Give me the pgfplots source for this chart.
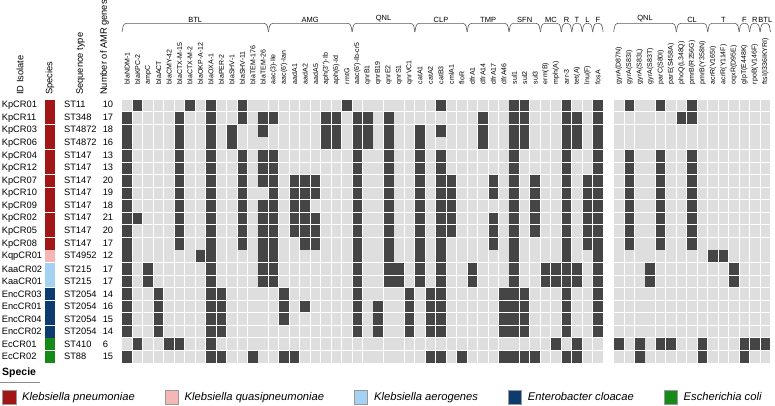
\documentclass[border=0pt]{standalone}
\usepackage{fontspec}
\setmainfont{Liberation Sans}
\usepackage{pgfplots}
\usepackage{pgfplotstable}
\pgfplotsset{compat=1.18}

\definecolor{cellD}{HTML}{454545}
\definecolor{cellL}{HTML}{DEDEDE}
\definecolor{spKp}{HTML}{A31616}
\definecolor{spKq}{HTML}{F5B7B5}
\definecolor{spKa}{HTML}{A5D1F3}
\definecolor{spEn}{HTML}{0C3B6F}
\definecolor{spEc}{HTML}{168A16}

% one heatmap cell (1 unit = 10.46pt x 12.56pt), white gap round it
\pgfdeclareplotmark{cell}{\pgfpathrectangle{\pgfqpoint{-4.78pt}{-5.83pt}}{\pgfqpoint{9.56pt}{11.66pt}}\pgfusepathqfill}
\pgfdeclareplotmark{spbox}{\pgfpathrectangle{\pgfqpoint{-5pt}{-6pt}}{\pgfqpoint{10pt}{12pt}}\pgfusepathqfill}

% row, then 46 acquired genes (BTL..F), then 15 point mutations; 1 = present
\pgfplotstableread[header=false]{
0  0 1 0 0 0 0 1 0 1 0  0 1 0 0 0 0 0 0 0 0  0 1 0 0 0 0 0 0 0 0  1 0 0 0 0 0 0 1 1 0  0 0 1 0 0 1  0 1 0 0 1 0 0 1 0 0 0 0 0 0 0
1  1 0 0 0 0 1 0 0 1 0  0 1 0 1 1 0 0 0 0 1  1 0 1 1 0 1 0 0 0 0  0 0 0 0 1 0 0 1 1 0  0 0 1 1 0 1  0 0 0 0 0 0 1 1 0 0 0 0 0 0 0
2  1 0 0 0 0 1 0 0 1 0  1 0 0 1 0 0 0 0 0 1  1 0 1 1 0 1 0 0 1 0  1 0 0 0 1 0 0 1 1 0  0 0 1 1 0 1  0 0 0 0 0 0 0 0 0 0 0 0 0 0 0
3  1 0 0 0 0 1 0 0 1 0  1 0 0 0 0 0 0 0 0 1  1 0 1 1 0 1 0 0 1 0  0 0 0 0 1 0 0 1 1 0  0 0 1 1 0 1  0 0 0 0 0 0 0 0 0 0 0 0 0 0 0
4  1 0 0 0 0 1 0 0 1 0  0 1 0 1 1 0 0 0 0 0  0 0 1 0 0 1 0 0 1 0  1 0 0 0 0 0 0 1 0 0  0 0 1 0 0 1  0 1 0 0 1 0 0 1 0 0 0 0 0 0 0
5  1 0 0 0 0 1 0 0 1 0  0 1 0 1 1 0 0 0 0 0  0 0 1 0 0 1 0 0 1 0  1 0 0 0 0 0 0 1 0 0  0 0 1 0 0 1  0 1 0 0 1 0 0 1 0 0 0 0 0 0 0
6  1 0 0 0 0 1 0 0 1 0  0 1 0 1 1 0 1 1 1 0  0 0 1 0 0 1 0 0 1 0  1 1 0 0 0 1 0 1 0 1  0 0 1 0 1 1  0 1 0 0 1 0 0 1 0 0 0 0 0 0 0
7  1 0 0 0 0 1 0 0 1 0  0 1 0 0 1 0 1 1 1 0  0 0 1 0 0 1 0 0 1 0  1 1 0 0 0 1 0 1 0 1  0 0 1 0 1 1  0 1 0 0 1 0 0 1 0 0 0 0 0 0 0
8  1 0 0 0 0 1 0 0 1 0  0 1 0 1 1 0 1 1 0 0  0 0 1 0 0 1 0 0 1 0  1 1 0 0 0 0 0 1 0 1  0 0 1 0 1 1  0 1 0 0 1 0 0 1 0 0 0 0 0 0 0
9  1 1 0 0 0 1 0 0 1 0  0 1 0 1 1 0 1 1 1 0  0 0 1 0 0 1 0 0 1 0  1 1 0 0 0 1 0 1 0 1  0 0 1 0 1 1  0 1 0 0 1 0 0 1 0 0 0 0 0 0 0
10 1 0 0 0 0 1 0 0 1 0  0 1 0 1 1 0 1 1 1 0  0 0 1 0 0 1 0 0 1 0  1 1 0 0 0 1 0 1 0 1  0 0 1 0 1 1  0 1 0 0 1 0 0 1 0 0 0 0 0 0 0
11 1 0 0 0 0 1 0 0 1 0  0 1 0 1 1 0 0 1 1 0  0 0 1 0 0 1 0 0 1 0  1 0 0 0 0 1 0 1 0 0  0 0 1 0 1 1  0 1 0 0 1 0 0 1 0 0 0 0 0 0 0
12 1 0 0 0 0 0 0 1 1 0  0 0 0 1 1 0 0 0 0 0  0 0 1 0 0 1 0 0 1 0  1 0 0 0 0 0 0 1 0 0  0 0 1 0 0 1  0 0 0 0 0 0 0 0 0 1 1 0 0 0 0
13 1 0 1 0 0 0 0 0 1 0  0 0 0 1 1 0 0 0 0 0  0 0 1 0 0 1 1 0 1 0  1 0 0 1 0 0 0 1 0 0  1 1 1 1 0 1  0 0 0 1 0 0 0 0 0 0 0 1 0 0 0
14 1 0 1 0 0 0 0 0 1 0  0 0 0 1 1 0 0 0 0 0  0 0 1 0 0 1 1 0 1 0  1 0 0 1 0 0 0 1 0 0  1 1 1 1 0 1  0 0 0 1 0 0 0 0 0 0 0 1 0 0 0
15 1 0 0 1 0 0 0 0 1 1  0 0 0 0 0 1 0 0 0 0  0 0 1 0 0 0 0 1 0 1  1 0 0 0 0 0 1 1 1 0  0 0 1 0 0 1  0 0 0 0 0 0 0 0 0 0 0 0 0 0 0
16 1 0 0 1 0 0 0 0 1 1  0 0 0 0 0 1 0 1 0 0  0 0 1 0 1 0 0 1 0 1  1 0 0 0 0 0 1 1 1 0  0 0 1 0 0 1  0 0 0 0 0 0 0 0 0 0 0 0 0 0 0
17 1 0 0 1 0 0 0 0 1 1  0 0 0 0 0 1 0 0 0 0  0 0 1 0 1 0 0 1 0 1  1 0 0 0 0 0 1 1 1 0  0 0 1 0 0 1  0 0 0 0 0 0 0 0 0 0 0 0 0 0 0
18 1 0 0 1 0 0 0 0 1 1  0 0 0 0 0 0 0 0 0 0  0 0 1 0 1 0 0 1 0 1  1 0 0 0 0 0 1 1 1 0  0 0 1 0 0 1  0 0 0 0 0 0 0 0 0 0 0 0 0 0 0
19 0 1 0 0 1 1 0 0 1 0  0 0 0 0 0 0 0 0 0 0  0 0 0 0 0 0 0 0 0 0  0 0 0 0 0 0 0 0 0 0  0 1 0 1 0 0  1 0 1 0 1 1 0 0 1 0 0 0 1 1 1
20 1 0 0 0 0 0 0 0 1 1  0 0 1 0 0 1 1 0 0 0  0 0 0 0 0 0 0 0 0 1  1 0 1 0 0 0 1 1 1 1  0 0 1 1 0 0  0 0 1 0 0 0 0 0 1 0 0 0 1 0 0
}\amr

\pgfplotstableread{
row sp
0 kp
1 kp
2 kp
3 kp
4 kp
5 kp
6 kp
7 kp
8 kp
9 kp
10 kp
11 kp
12 kq
13 ka
14 ka
15 en
16 en
17 en
18 en
19 ec
20 ec
}\species

\newcommand\rl[3]{\makebox[62.3pt][l]{#1}\makebox[38.7pt][l]{#2}\makebox[19pt][l]{#3}}
\newcommand\grp[3]{%
  \draw[black!65, line width=0.6pt] (axis cs:#1,5.86) to[out=75,in=180] (axis cs:#1+0.4,6.54)
    -- (axis cs:#2-0.4,6.54) to[out=0,in=105] (axis cs:#2,5.86);
  \node[anchor=south, inner sep=0pt, font=\fontsize{7.5}{9}\selectfont] at (axis cs:{(#1+#2)/2},6.62) {#3};}
\newcommand\hd[2]{\node[rotate=90, anchor=west, inner sep=0pt, font=\fontsize{9.3}{11}\selectfont] at (axis cs:#1,0.842) {#2};}
\newcommand\q{\textquotesingle}

\begin{document}
\begin{tikzpicture}
\useasboundingbox (-127.23pt,105.58pt) rectangle (647.77pt,-299.42pt);
\begin{axis}[
  at={(0pt,0pt)}, anchor=origin,
  x=10.46pt, y=12.56pt,
  xmin=-0.5, xmax=61.5, ymin=-20.5, ymax=0.5,
  clip=false,
  axis line style={draw=none},
  major tick length=0pt,
  xtick={0,1,...,45,47,48,...,61},
  xticklabels={blaNDM-1,blaKPC-2,ampC,blaACT,blaCMY-42,blaCTX-M-15,blaCTX-M-2,blaOKP-A-12,blaOXA-1,blaPER-2,
    blaSHV-1,blaSHV-11,blaTEM-176,blaTEM-26,aac(3)-IIe,aac(6\q)-Ian,aadA1,aadA2,aadA5,aph(3\q\q)-Ib,
    aph(6)-Id,rmtG,aac(6\q)-Ib-cr5,qnrB1,qnrB19,qnrE2,qnrS1,qnrVC1,catA1,catA2,
    catB3,cmlA1,floR,dfrA1,dfrA14,dfrA17,dfrA46,sul1,sul2,sul3,
    erm(B),mph(A),arr-3,tet(A),lnu(F),fosA,
    gyrA(D87N),gyrA(S83I),gyrA(S83L),gyrA(S83T),parC(S80I),parE(S458A),phoQ(L348Q),pmrB(R256G),
    pmrB(Y358N),acrR(V165I),acrR(Y114F),oqxR(D95E),glpT(E448K),rpoB(V146F),ftsI(I336IKYRI)},
  xticklabel pos=upper,
  xticklabel style={yshift=15pt, rotate=90, anchor=west, inner sep=0pt, font=\fontsize{7}{8}\selectfont},
  ytick={0,-1,...,-20},
  yticklabels={\rl{KpCR01}{ST11}{10},\rl{KpCR11}{ST348}{17},\rl{KpCR03}{ST4872}{18},\rl{KpCR06}{ST4872}{16},
    \rl{KpCR04}{ST147}{13},\rl{KpCR12}{ST147}{13},\rl{KpCR07}{ST147}{20},\rl{KpCR10}{ST147}{19},
    \rl{KpCR09}{ST147}{18},\rl{KpCR02}{ST147}{21},\rl{KpCR05}{ST147}{20},\rl{KpCR08}{ST147}{17},
    \rl{KqpCR01}{ST4952}{12},\rl{KaaCR02}{ST215}{17},\rl{KaaCR01}{ST215}{17},\rl{EncCR03}{ST2054}{14},
    \rl{EncCR01}{ST2054}{16},\rl{EncCR04}{ST2054}{15},\rl{EncCR02}{ST2054}{14},\rl{EcCR01}{ST410}{6},
    \rl{EcCR02}{ST88}{15}},
  yticklabel style={anchor=east, inner sep=0pt, font=\fontsize{9.3}{11}\selectfont},
  colormap={amr}{color(0)=(cellL) color(1)=(cellD)},
  point meta min=0, point meta max=1,
  legend columns=5,
  legend cell align=left,
  legend image code/.code={\draw[#1] (0pt,-7.15pt) rectangle (13.3pt,7.15pt); \path (17.5pt,0pt);},
  legend style={at={(-0.185,-0.1287)}, anchor=west, draw=none, fill=none, inner sep=0pt,
    font=\itshape\fontsize{11.2}{13}\selectfont,
    /tikz/every even column/.append style={column sep=28pt}},
  cells/.style={forget plot, scatter, only marks, mark=cell, point meta=explicit,
    scatter/use mapped color={fill=mapped color, draw=none}},
]
\pgfplotsinvokeforeach{1,...,46}{
  \addplot[cells] table[x expr=#1-1, y expr=-\thisrowno{0}, meta index=#1] {\amr};
}
\pgfplotsinvokeforeach{47,...,61}{
  \addplot[cells] table[x expr=#1, y expr=-\thisrowno{0}, meta index=#1] {\amr};
}
\addplot[forget plot, scatter, only marks, mark=spbox, point meta=explicit symbolic,
  scatter/classes={kp={fill=spKp}, kq={fill=spKq}, ka={fill=spKa}, en={fill=spEn}, ec={fill=spEc}}]
  table[x expr=-7.38, y expr=-\thisrow{row}, meta=sp] {\species};

\addlegendimage{fill=spKp, draw=black!40}
\addlegendentry{Klebsiella pneumoniae}
\addlegendimage{fill=spKq, draw=black!40}
\addlegendentry{Klebsiella quasipneumoniae}
\addlegendimage{fill=spKa, draw=black!40}
\addlegendentry{Klebsiella aerogenes}
\addlegendimage{fill=spEn, draw=black!40}
\addlegendentry{Enterobacter cloacae}
\addlegendimage{fill=spEc, draw=black!40}
\addlegendentry{Escherichia coli}

\hd{-10.25}{ID Isolate}
\hd{-7.38}{Species}
\hd{-4.45}{Sequence type}
\hd{-2.17}{Number of AMR genes}

\grp{-0.5}{13.5}{BTL}
\grp{13.5}{21.5}{AMG}
\grp{21.5}{27.5}{QNL}
\grp{27.5}{32.5}{CLP}
\grp{32.5}{36.5}{TMP}
\grp{36.5}{39.5}{SFN}
\grp{39.5}{41.5}{MC}
\grp{41.5}{42.5}{R}
\grp{42.5}{43.5}{T}
\grp{43.5}{44.5}{L}
\grp{44.5}{45.5}{F}
\grp{46.5}{52.5}{QNL}
\grp{52.5}{55.5}{CL}
\grp{55.5}{58.5}{T}
\grp{58.5}{59.5}{F}
\grp{59.5}{60.5}{R}
\grp{60.5}{61.5}{BTL}

\node[anchor=west, inner sep=0pt, font=\bfseries\fontsize{10.5}{12}\selectfont] at (axis cs:-11.97,-21.29) {Specie};
\draw[black!45, line width=0.5pt] (axis cs:-12.16,-22.01) -- (axis cs:-8.34,-22.01);
\end{axis}
\end{tikzpicture}
\end{document}
